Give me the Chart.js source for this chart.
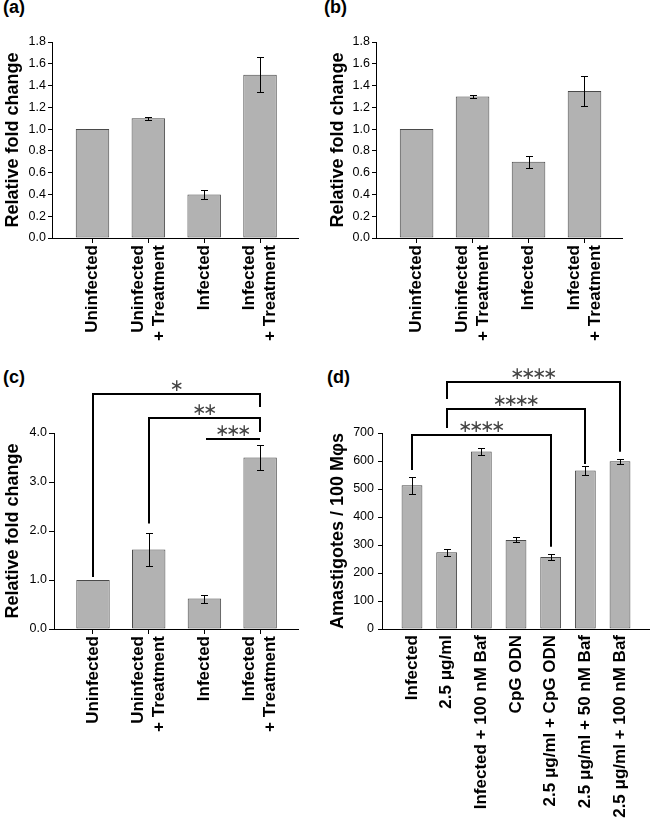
<!DOCTYPE html>
<html>
<head>
<meta charset="utf-8">
<script src="https://cdn.jsdelivr.net/npm/chart.js@4.4.1/dist/chart.umd.min.js"></script>
<style>
  html, body { margin: 0; padding: 0; background: #fff; }
  body { width: 650px; height: 820px; position: relative; overflow: hidden; font-family: "Liberation Sans", Arial, sans-serif; }
  canvas { position: absolute; }
  .plabel { position: absolute; font: bold 18px "Liberation Sans", Arial, sans-serif; line-height: 18px; color: #000; white-space: nowrap; }
</style>
</head>
<body>
<div class="plabel" style="left:3px;top:-2px">(a)</div>
<div class="plabel" style="left:324px;top:-2px">(b)</div>
<div class="plabel" style="left:3px;top:368px">(c)</div>
<div class="plabel" style="left:327px;top:368px">(d)</div>
<canvas id="chartA" width="325" height="400" style="left:0;top:0"></canvas>
<canvas id="chartB" width="325" height="400" style="left:325px;top:0"></canvas>
<canvas id="chartC" width="325" height="460" style="left:0;top:360px"></canvas>
<canvas id="chartD" width="325" height="460" style="left:325px;top:360px"></canvas>
<script>
// ---------------- data ----------------
const categoriesABC = [["Uninfected"], ["Uninfected", "+ Treatment"], ["Infected"], ["Infected", "+ Treatment"]];
const valuesA = [1.00, 1.10, 0.40, 1.50];
const errorsA = [0, 0.015, 0.04, 0.16];
const valuesB = [1.00, 1.30, 0.70, 1.35];
const errorsB = [0, 0.015, 0.055, 0.14];
const valuesC = [1.00, 1.62, 0.62, 3.50];
const errorsC = [0, 0.33, 0.08, 0.26];
const categoriesD = ["Infected", "2.5 μg/ml", "Infected + 100 nM Baf", "CpG ODN", "2.5 μg/ml + CpG ODN", "2.5 μg/ml + 50 nM Baf", "2.5 μg/ml + 100 nM Baf"];
const valuesD = [513, 274, 634, 318, 257, 566, 599];
const errorsD = [30, 12, 13, 9, 12, 16, 9];
const yTicksAB = [0, 0.2, 0.4, 0.6, 0.8, 1.0, 1.2, 1.4, 1.6, 1.8];
const yTicksC = [0, 1, 2, 3, 4];
const yTicksD = [0, 100, 200, 300, 400, 500, 600, 700];
const yTitleFold = "Relative fold change";
const yTitleD = "Amastigotes / 100 Mφs";
// significance comparisons: [from, to, label]
const sigC = [[0, 3, "*"], [1, 3, "**"], [2, 3, "***"]];
const sigD = [[0, 4, "****"], [1, 5, "****"], [1, 6, "****"]];

// ---------------- style ----------------
const FONT = '"Liberation Sans", Arial, sans-serif';
const BAR_FILL = '#b2b2b2';
const BAR_EDGE = '#4a4a4a';
const LABEL_LH = 21;

// bracket geometry (pixels, relative to chart-area top); left/right: gap above error top, or fixed drop
const bracketStyleC = [
  { level: -39, left: { gap: 3 }, right: { drop: 13 } },
  { level: -15, left: { gap: 10 }, right: { drop: 14 } },
  { level: 6, left: null, right: null, x0shift: 2 }
];
const bracketStyleD = [
  { level: 2, left: { gap: 7 }, right: { gap: 7 } },
  { level: -24, left: { drop: 19 }, right: { gap: 2 } },
  { level: -51, left: { drop: 17 }, right: { gap: 7 } }
];

function errorBarPlugin(vals, errs) {
  return {
    id: 'errorBars',
    afterDatasetsDraw(chart) {
      const { ctx, scales: { x, y } } = chart;
      ctx.save();
      ctx.strokeStyle = '#000';
      ctx.lineWidth = 1;
      vals.forEach((v, i) => {
        const e = errs[i];
        if (!e) return;
        const px = Math.round(x.getPixelForValue(i)) + 0.5;
        const t = Math.round(y.getPixelForValue(v + e)) + 0.5;
        const b = Math.round(y.getPixelForValue(v - e)) + 0.5;
        ctx.beginPath();
        ctx.moveTo(px, t); ctx.lineTo(px, b);
        ctx.moveTo(px - 3.5, t); ctx.lineTo(px + 3.5, t);
        ctx.moveTo(px - 3.5, b); ctx.lineTo(px + 3.5, b);
        ctx.stroke();
      });
      ctx.restore();
    }
  };
}

function xLabelPlugin(cats, gap) {
  return {
    id: 'xLabels',
    afterDraw(chart) {
      const { ctx, chartArea, scales: { x } } = chart;
      ctx.save();
      ctx.font = 'bold 17px ' + FONT;
      ctx.fillStyle = '#000';
      ctx.textAlign = 'right';
      ctx.textBaseline = 'middle';
      cats.forEach((c, i) => {
        const lines = Array.isArray(c) ? c : [c];
        const px = x.getPixelForValue(i);
        lines.forEach((ln, k) => {
          const cx = px + (k - (lines.length - 1) / 2) * LABEL_LH;
          ctx.save();
          ctx.translate(cx, chartArea.bottom + gap);
          ctx.rotate(-Math.PI / 2);
          ctx.fillText(ln, 0, 0);
          ctx.restore();
        });
      });
      ctx.restore();
    }
  };
}

function bracketPlugin(sig, vals, errs, styles) {
  return {
    id: 'brackets',
    afterDraw(chart) {
      const { ctx, chartArea, scales: { x, y } } = chart;
      ctx.save();
      ctx.strokeStyle = '#000';
      ctx.lineWidth = 2;
      ctx.lineCap = 'butt';
      sig.forEach(([i0, i1, label], j) => {
        const st = styles[j];
        const x0 = Math.round(x.getPixelForValue(i0)) + (st.x0shift || 0);
        const x1 = Math.round(x.getPixelForValue(i1));
        const ly = chartArea.top + st.level;
        const endY = (idx, spec) => spec.gap !== undefined
          ? y.getPixelForValue(vals[idx] + errs[idx]) - spec.gap
          : ly + spec.drop;
        ctx.beginPath();
        if (st.left) { ctx.moveTo(x0, endY(i0, st.left)); ctx.lineTo(x0, ly); }
        else ctx.moveTo(x0, ly);
        ctx.lineTo(x1, ly);
        if (st.right) ctx.lineTo(x1, endY(i1, st.right));
        ctx.stroke();
        // stars
        ctx.font = '17px "DejaVu Sans"';
        ctx.fillStyle = '#444';
        ctx.textBaseline = 'middle';
        ctx.textAlign = 'left';
        const w = ctx.measureText('∗').width;
        const step = 11;
        try { ctx.letterSpacing = (step - w) + 'px'; } catch (e) {}
        const txt = label.replace(/\*/g, '∗');
        const total = label.length * step - (step - w);
        ctx.fillText(txt, (x0 + x1) / 2 - total / 2, ly - 7);
        try { ctx.letterSpacing = '0px'; } catch (e) {}
      });
      ctx.restore();
    }
  };
}

function buildChart(id, o) {
  const canvas = document.getElementById(id);
  const W = canvas.width, H = canvas.height;
  const points = o.vals.map((v, i) => ({ x: i, y: v }));
  const plugins = [errorBarPlugin(o.vals, o.errs), xLabelPlugin(o.cats, o.labelGap)];
  if (o.sig) plugins.push(bracketPlugin(o.sig, o.vals, o.errs, o.sigStyle));
  return new Chart(canvas, {
    type: 'bar',
    data: {
      labels: o.cats,
      datasets: [{
        data: points,
        backgroundColor: BAR_FILL,
        borderColor: BAR_EDGE,
        borderWidth: 1,
        borderSkipped: false,
        barPercentage: o.barPct,
        categoryPercentage: 1
      }]
    },
    options: {
      responsive: false,
      animation: false,
      layout: { padding: { left: 0, top: o.area.top, right: W - o.area.right, bottom: H - o.area.bottom } },
      plugins: { legend: { display: false }, tooltip: { enabled: false } },
      scales: {
        x: {
          type: 'linear',
          offset: false,
          min: o.xMin, max: o.xMax,
          afterBuildTicks: s => { s.ticks = o.cats.map((c, i) => ({ value: i })); },
          afterFit: s => { s.height = 0; },
          ticks: { display: false },
          grid: { offset: false, drawOnChartArea: false, drawTicks: o.xTickLen > 0, tickLength: o.xTickLen, color: '#000', lineWidth: 1 },
          border: { color: '#000', width: 1 }
        },
        y: {
          min: o.yTicks[0], max: o.yTicks[o.yTicks.length - 1],
          afterBuildTicks: s => { s.ticks = o.yTicks.map(v => ({ value: v })); },
          afterFit: s => { s.width = o.area.left; },
          ticks: { color: '#000', font: { family: FONT, size: 12.5 }, padding: o.yPad, callback: v => Number(v).toFixed(o.dec) },
          grid: { drawOnChartArea: false, tickLength: o.yTickLen, color: '#000', lineWidth: 1 },
          border: { color: '#000', width: 1 },
          title: { display: true, text: o.yTitle, color: '#000', font: { family: FONT, size: 18, weight: 'bold' }, padding: { top: 2, bottom: 0 } }
        }
      }
    },
    plugins
  });
}

buildChart('chartA', {
  cats: categoriesABC, vals: valuesA, errs: errorsA, yTicks: yTicksAB, dec: 1, yTitle: yTitleFold,
  area: { left: 52, top: 42, right: 298, bottom: 238 }, xMin: -0.725, xMax: 3.68, barPct: 0.6,
  xTickLen: 5, yTickLen: 4, yPad: 2, labelGap: 7
});
buildChart('chartB', {
  cats: categoriesABC, vals: valuesB, errs: errorsB, yTicks: yTicksAB, dec: 1, yTitle: yTitleFold,
  area: { left: 51, top: 42, right: 297, bottom: 238 }, xMin: -0.725, xMax: 3.67, barPct: 0.6,
  xTickLen: 5, yTickLen: 4, yPad: 2, labelGap: 7
});
buildChart('chartC', {
  cats: categoriesABC, vals: valuesC, errs: errorsC, yTicks: yTicksC, dec: 1, yTitle: yTitleFold,
  area: { left: 54, top: 73, right: 298, bottom: 269 }, xMin: -0.70, xMax: 3.68, barPct: 0.6,
  xTickLen: 5, yTickLen: 5, yPad: 2, labelGap: 7, sig: sigC, sigStyle: bracketStyleC
});
buildChart('chartD', {
  cats: categoriesD, vals: valuesD, errs: errorsD, yTicks: yTicksD, dec: 0, yTitle: yTitleD,
  area: { left: 57, top: 73, right: 325, bottom: 269 }, xMin: -0.865, xMax: 6.865, barPct: 0.6,
  xTickLen: 0, yTickLen: 4, yPad: 4, labelGap: 6, sig: sigD, sigStyle: bracketStyleD
});
</script>
</body>
</html>
